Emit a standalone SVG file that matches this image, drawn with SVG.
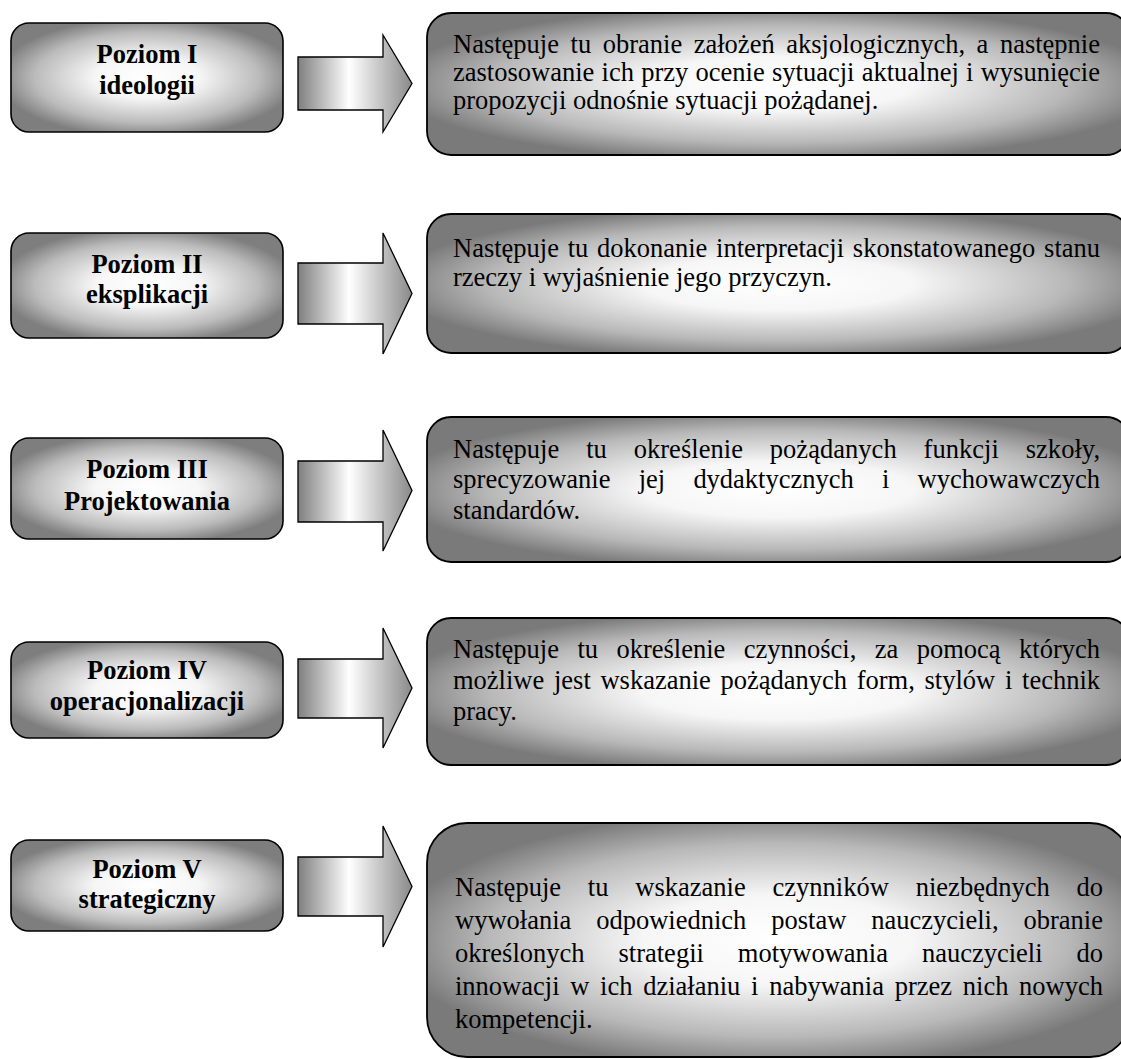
<svg xmlns="http://www.w3.org/2000/svg" width="1121" height="1059" viewBox="0 0 1121 1059">
<defs>
<radialGradient id="gr" cx="0.5" cy="0.5" r="0.55" fx="0.5" fy="0.5"><stop offset="0" stop-color="#ffffff"/><stop offset="0.35" stop-color="#f6f6f6"/><stop offset="0.75" stop-color="#bbbbbb"/><stop offset="1" stop-color="#7e7e7e"/></radialGradient>
<radialGradient id="gr2" cx="0.5" cy="0.5" r="0.55" fx="0.5" fy="0.5"><stop offset="0" stop-color="#ffffff"/><stop offset="0.35" stop-color="#f6f6f6"/><stop offset="0.75" stop-color="#b8b8b8"/><stop offset="1" stop-color="#7a7a7a"/></radialGradient>
<linearGradient id="ga" x1="0" y1="0" x2="1" y2="0"><stop offset="0" stop-color="#7f7f7f"/><stop offset="0.45" stop-color="#ffffff"/><stop offset="1" stop-color="#8a8a8a"/></linearGradient>
</defs>
<style>
.node{isolation:isolate}
.lbox{fill:url(#gr);stroke:#000;stroke-width:1.6}
.rbox{fill:url(#gr2);stroke:#000;stroke-width:1.8}
.lab{font-family:"Liberation Serif","Times New Roman",serif;font-weight:bold;font-size:26.5px;text-anchor:middle;fill:#000}
.body{font-family:"Liberation Serif","Times New Roman",serif;font-size:26.5px;fill:#000}
.arr{fill:url(#ga);stroke:#000;stroke-width:1.3;stroke-linejoin:miter}
</style>
<rect width="1121" height="1059" fill="#fff"/>

<g id="level1" class="node">
<rect class="lbox" x="11" y="23" width="272" height="109" rx="18"/>
<text class="lab" font-family="Liberation Serif" x="147" y="63">Poziom I</text>
<text class="lab" font-family="Liberation Serif" x="147" y="94">ideologii</text>
</g>
<g id="level2" class="node">
<rect class="lbox" x="11" y="233" width="272" height="105" rx="18"/>
<text class="lab" font-family="Liberation Serif" x="147" y="273">Poziom II</text>
<text class="lab" font-family="Liberation Serif" x="147" y="303">eksplikacji</text>
</g>
<g id="level3" class="node">
<rect class="lbox" x="11" y="438" width="272" height="101" rx="18"/>
<text class="lab" font-family="Liberation Serif" x="147" y="478">Poziom III</text>
<text class="lab" font-family="Liberation Serif" x="147" y="510">Projektowania</text>
</g>
<g id="level4" class="node">
<rect class="lbox" x="11" y="642" width="272" height="96" rx="18"/>
<text class="lab" font-family="Liberation Serif" x="147" y="679">Poziom IV</text>
<text class="lab" font-family="Liberation Serif" x="147" y="710">operacjonalizacji</text>
</g>
<g id="level5" class="node">
<rect class="lbox" x="11" y="840" width="272" height="91" rx="18"/>
<text class="lab" font-family="Liberation Serif" x="147" y="878">Poziom V</text>
<text class="lab" font-family="Liberation Serif" x="147" y="908">strategiczny</text>
</g>

<g id="connectors">
<polygon class="arr" points="298,57 383,57 383,35 412,83.5 383,132 383,110 298,110"/>
<polygon class="arr" points="298,263 383,263 383,233 412,293.5 383,354 383,324 298,324"/>
<polygon class="arr" points="298,461 383,461 383,430 412,490.5 383,551 383,522 298,522"/>
<polygon class="arr" points="298,659 383,659 383,628 412,688 383,748 383,718 298,718"/>
<polygon class="arr" points="298,857 383,857 383,826 412,886.5 383,947 383,916 298,916"/>
</g>

<g id="desc1" class="node">
<rect class="rbox" x="427" y="13" width="703" height="142" rx="24"/>
<text class="body" font-family="Liberation Serif" x="453" y="53" word-spacing="4.9" textLength="647" lengthAdjust="spacing">Następuje tu obranie założeń aksjologicznych, a następnie</text>
<text class="body" font-family="Liberation Serif" x="453" y="81" word-spacing="0.6" textLength="647" lengthAdjust="spacing">zastosowanie ich przy ocenie sytuacji aktualnej i wysunięcie</text>
<text class="body" font-family="Liberation Serif" x="453" y="109">propozycji odnośnie sytuacji pożądanej.</text>
</g>
<g id="desc2" class="node">
<rect class="rbox" x="427" y="214" width="703" height="139" rx="24"/>
<text class="body" font-family="Liberation Serif" x="453" y="257" word-spacing="2.1" textLength="647" lengthAdjust="spacing">Następuje tu dokonanie interpretacji skonstatowanego stanu</text>
<text class="body" font-family="Liberation Serif" x="453" y="286">rzeczy i wyjaśnienie jego przyczyn.</text>
</g>
<g id="desc3" class="node">
<rect class="rbox" x="427" y="417" width="703" height="145" rx="24"/>
<text class="body" font-family="Liberation Serif" x="453" y="457.5" word-spacing="20.2" textLength="647" lengthAdjust="spacing">Następuje tu określenie pożądanych funkcji szkoły,</text>
<text class="body" font-family="Liberation Serif" x="453" y="488" word-spacing="21.6" textLength="647" lengthAdjust="spacing">sprecyzowanie jej dydaktycznych i wychowawczych</text>
<text class="body" font-family="Liberation Serif" x="453" y="519">standardów.</text>
</g>
<g id="desc4" class="node">
<rect class="rbox" x="427" y="618" width="703" height="147" rx="24"/>
<text class="body" font-family="Liberation Serif" x="453" y="658" word-spacing="11.8" textLength="647" lengthAdjust="spacing">Następuje tu określenie czynności, za pomocą których</text>
<text class="body" font-family="Liberation Serif" x="453" y="689" word-spacing="3.1" textLength="647" lengthAdjust="spacing">możliwe jest wskazanie pożądanych form, stylów i technik</text>
<text class="body" font-family="Liberation Serif" x="453" y="720">pracy.</text>
</g>
<g id="desc5" class="node">
<rect class="rbox" x="427" y="823" width="703" height="234" rx="40"/>
<text class="body" font-family="Liberation Serif" x="455" y="896" word-spacing="20.2" textLength="648" lengthAdjust="spacing">Następuje tu wskazanie czynników niezbędnych do</text>
<text class="body" font-family="Liberation Serif" x="455" y="929" word-spacing="18.3" textLength="648" lengthAdjust="spacing">wywołania odpowiednich postaw nauczycieli, obranie</text>
<text class="body" font-family="Liberation Serif" x="455" y="962" word-spacing="27.3" textLength="648" lengthAdjust="spacing">określonych strategii motywowania nauczycieli do</text>
<text class="body" font-family="Liberation Serif" x="455" y="995" word-spacing="4.1" textLength="648" lengthAdjust="spacing">innowacji w ich działaniu i nabywania przez nich nowych</text>
<text class="body" font-family="Liberation Serif" x="455" y="1028">kompetencji.</text>
</g>
</svg>
